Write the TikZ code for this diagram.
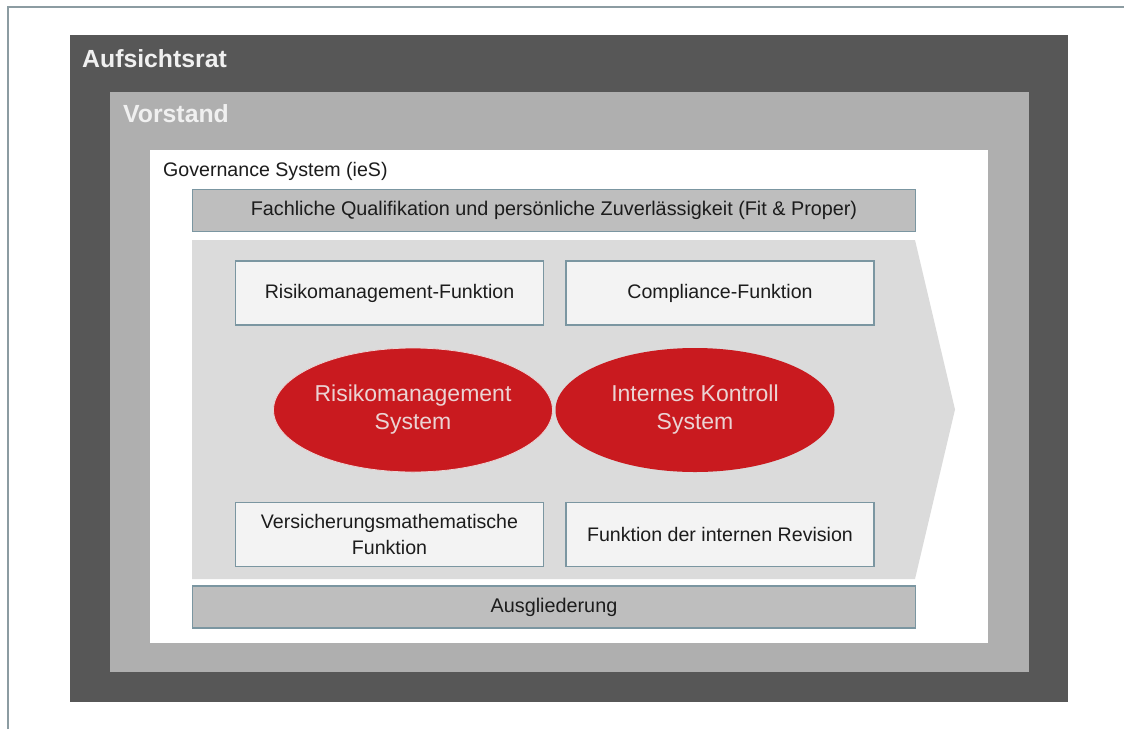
\documentclass[tikz,border=0pt]{standalone}
\usepackage{fontspec}
\setmainfont{Liberation Sans}
\usetikzlibrary{shapes.geometric}
\definecolor{framecol}{HTML}{8C9CA2}
\definecolor{darkbox}{HTML}{575757}
\definecolor{midbox}{HTML}{AFAFAF}
\definecolor{barfill}{HTML}{BEBEBE}
\definecolor{arrowfill}{HTML}{DBDBDB}
\definecolor{boxfill}{HTML}{F3F3F3}
\definecolor{boxline}{HTML}{7B96A1}
\definecolor{redell}{HTML}{C91A1F}
\definecolor{elltext}{HTML}{EBD3D3}
\definecolor{headtext}{HTML}{F0F0F0}
\definecolor{bodytext}{HTML}{1C1C1C}
\tikzset{
  panel/.style={rectangle, inner sep=0pt, outer sep=0pt},
  bar/.style={rectangle, draw=boxline, line width=1.3pt, fill=barfill, inner sep=0pt,
    text=bodytext, font=\fontsize{19.8}{23}\selectfont},
  fbox/.style={rectangle, draw=boxline, line width=1.3pt, fill=boxfill, inner sep=0pt,
    minimum width=308, minimum height=64, align=center, text=bodytext,
    font=\fontsize{19.6}{26}\selectfont},
  ell/.style={ellipse, fill=redell, inner sep=0pt, minimum width=279, minimum height=124,
    align=center, text=elltext, font=\fontsize{23}{28}\selectfont},
  head/.style={anchor=base west, inner sep=0pt, text=headtext, font=\fontsize{24.8}{28}\selectfont\bfseries},
}
\begin{document}
\begin{tikzpicture}[x=1pt,y=-1pt]
\useasboundingbox (0,0) rectangle (1124,729);
\fill[white] (0,0) rectangle (1124,729);
\draw[framecol, line width=1.5pt] (8,729) -- (8,7) -- (1124,7);
% nested panels
\node[panel, fill=darkbox, minimum width=998, minimum height=667] (aufs) at (569,368.5) {};
\node[panel, fill=midbox, minimum width=919, minimum height=580] (vorst) at (569.5,382) {};
\node[panel, fill=white, minimum width=838, minimum height=493] (gov) at (569,396.5) {};
\node[head] (aufslbl) at (82,67) {Aufsichtsrat};
\node[head] (vorstlbl) at (123,122) {Vorstand};
\node[anchor=base west, inner sep=0pt, text=bodytext, font=\fontsize{19.6}{23}\selectfont] (govlbl) at (163,176) {Governance System (ieS)};
% bars
\node[bar, minimum width=723, minimum height=42] (fit) at (554,210.5) {Fachliche Qualifikation und persönliche Zuverlässigkeit (Fit \& Proper)};
% arrow background
\fill[arrowfill] (192,240) -- (915,240) -- (955,409.5) -- (915,579) -- (192,579) -- cycle;
\node[bar, minimum width=723, minimum height=42] (aus) at (554,607) {Ausgliederung};
% function boxes
\node[fbox] (rmf) at (389.5,293) {Risikomanagement-Funktion};
\node[fbox] (comp) at (720,293) {Compliance-Funktion};
\node[fbox] (vmf) at (389.5,534.5) {Versicherungsmathematische\\Funktion};
\node[fbox] (rev) at (720,534.5) {Funktion der internen Revision};
% ellipses
\node[ell] (iks) at (695,410) {Internes Kontroll\\System};
\node[ell, draw=elltext, line width=0.8pt] (rms) at (413,410) {Risikomanagement\\System};
\end{tikzpicture}
\end{document}
